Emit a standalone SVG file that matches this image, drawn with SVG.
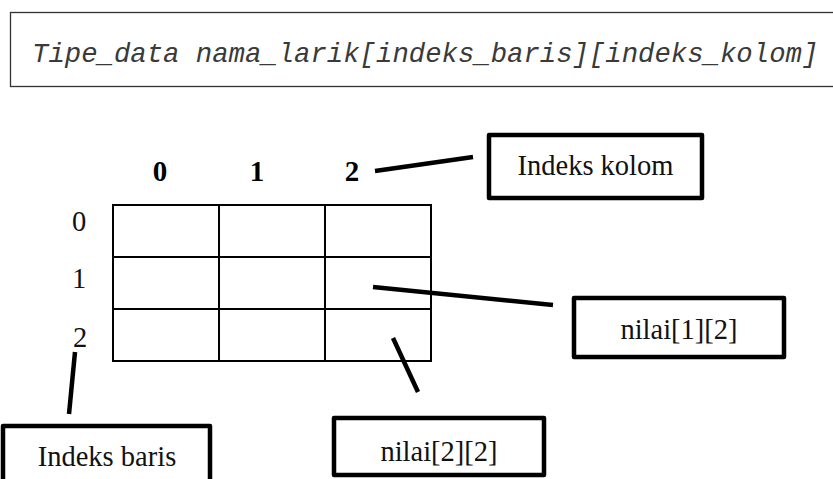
<svg xmlns="http://www.w3.org/2000/svg" width="833" height="479" viewBox="0 0 833 479">
  <style>
    .code { font-family: "Liberation Mono", "Courier New", monospace; font-style: italic; font-size: 27.3px; fill: #3a3a3a; }
    .lbl { font-family: "Liberation Serif", "Times New Roman", serif; font-size: 28.5px; fill: #111; text-anchor: middle; }
    .hdr { font-family: "Liberation Serif", "Times New Roman", serif; font-size: 29px; font-weight: bold; fill: #000; text-anchor: middle; }
    .box { fill: #fff; stroke: #000; stroke-width: 4.5; stroke-linejoin: round; }
    .cell { fill: none; stroke: #000; stroke-width: 2; }
    .link { stroke: #000; stroke-width: 4.5; fill: none; }
  </style>

  <!-- declaration syntax -->
  <g id="declaration">
    <rect x="10.5" y="12.5" width="840" height="74" fill="#fff" stroke="#333" stroke-width="1.3"/>
    <text class="code" x="32" y="62">Tipe_data nama_larik[indeks_baris][indeks_kolom]</text>
  </g>

  <!-- column indices -->
  <g id="column-headers">
    <text class="hdr" x="160" y="181">0</text>
    <text class="hdr" x="257" y="181">1</text>
    <text class="hdr" x="352" y="181">2</text>
  </g>

  <!-- row indices -->
  <g id="row-headers">
    <text class="lbl" x="79" y="231">0</text>
    <text class="lbl" x="79" y="288">1</text>
    <text class="lbl" x="80" y="347">2</text>
  </g>

  <!-- 3x3 array grid -->
  <g id="grid">
    <rect class="cell" x="113" y="205" width="318" height="156"/>
    <line class="cell" x1="219" y1="205" x2="219" y2="361"/>
    <line class="cell" x1="325" y1="205" x2="325" y2="361"/>
    <line class="cell" x1="113" y1="257" x2="431" y2="257"/>
    <line class="cell" x1="113" y1="309" x2="431" y2="309"/>
  </g>

  <!-- callout lines -->
  <g id="connectors">
    <line class="link" x1="375" y1="171" x2="473" y2="157"/>
    <line class="link" x1="373" y1="287" x2="553" y2="305"/>
    <line class="link" x1="393" y1="338" x2="418" y2="392"/>
    <line class="link" x1="75" y1="352" x2="69" y2="414"/>
  </g>

  <g id="indeks-kolom">
    <rect class="box" x="489" y="135" width="213" height="63"/>
    <text class="lbl" x="595.5" y="175">Indeks kolom</text>
  </g>

  <g id="nilai-1-2">
    <rect class="box" x="574" y="298" width="210" height="59"/>
    <text class="lbl" x="679" y="339">nilai[1][2]</text>
  </g>

  <g id="nilai-2-2">
    <rect class="box" x="334" y="418" width="210" height="57"/>
    <text class="lbl" x="439" y="461">nilai[2][2]</text>
  </g>

  <g id="indeks-baris">
    <rect class="box" x="3" y="426" width="207" height="70"/>
    <text class="lbl" x="107" y="466">Indeks baris</text>
  </g>
</svg>
